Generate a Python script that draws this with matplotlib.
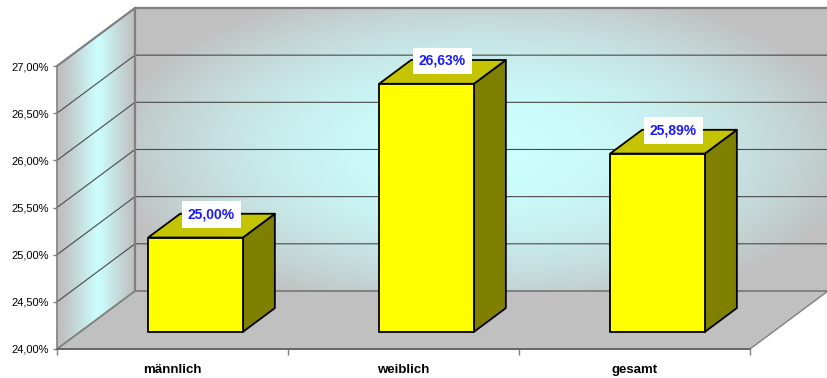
#!/usr/bin/env python3
"""Excel-style 3D column chart: share per group (männlich / weiblich / gesamt)."""

import numpy as np
import matplotlib

matplotlib.use("Agg")
import matplotlib.pyplot as plt
from matplotlib.patches import Polygon


CATEGORIES = ["männlich", "weiblich", "gesamt"]
VALUES = [25.00, 26.63, 25.89]
Y_TICKS = [24.0, 24.5, 25.0, 25.5, 26.0, 26.5, 27.0]

# 3D look: depth vector of the box (x in category units, y in percent units)
DEPTH_X = 78 / 231
DEPTH_Y = 58 / 94.3
BAR_WIDTH = 0.41
BAR_DEPTH = 0.41

GRAY = np.array([192, 192, 192]) / 255
CYAN = np.array([204, 255, 255]) / 255
FRONT = "#FFFF00"
TOP = "#C4C400"
SIDE = "#808000"
WALL_EDGE = "#808080"
GRID = "#4A4A4A"


def pct(v: float) -> str:
    return f"{v:.2f}%".replace(".", ",")


def proj(x: float, y: float, f: float) -> tuple[float, float]:
    return x + f * DEPTH_X, y + f * DEPTH_Y


def gradient(t: np.ndarray) -> np.ndarray:
    t = np.clip(t, 0, 1)[..., None]
    return GRAY * (1 - t) + CYAN * t


def main() -> None:
    fig = plt.figure(figsize=(8.28, 3.78), dpi=100)
    ax = fig.add_axes([57 / 828, 29 / 378, 693 / 828, 283 / 378])
    ax.patch.set_visible(False)
    n = len(CATEGORIES)
    ymin, ymax = Y_TICKS[0], Y_TICKS[-1]

    # back wall with radial glow
    u = np.linspace(0, 1, 400)
    v = np.linspace(0, 1, 200)
    uu, vv = np.meshgrid(u, v)
    r2 = ((uu - 0.5) / 0.55) ** 2 + ((vv - 0.5) / 0.6) ** 2
    ax.imshow(
        gradient(1 - r2),
        extent=[DEPTH_X, n + DEPTH_X, ymin + DEPTH_Y, ymax + DEPTH_Y],
        origin="lower",
        aspect="auto",
        clip_on=False,
        zorder=0,
    )

    # left wall with a vertical glow band
    left_wall = Polygon(
        [(0, ymin), proj(0, ymin, 1), proj(0, ymax, 1), (0, ymax)],
        closed=True,
        fill=False,
        edgecolor="none",
        transform=ax.transData,
    )
    ax.add_patch(left_wall)
    band = 1 - np.abs(2 * uu - 1.05) * 1.1
    im = ax.imshow(
        gradient(band),
        extent=[0, DEPTH_X, ymin, ymax + DEPTH_Y],
        origin="lower",
        aspect="auto",
        zorder=0,
    )
    im.set_clip_path(left_wall)
    im.set_clip_box(fig.bbox)

    # gridlines on both walls
    for t in Y_TICKS[1:-1]:
        bx, by = proj(0, t, 1)
        ax.plot([0, bx, n + DEPTH_X], [t, by, by], color=GRID, lw=0.8,
                clip_on=False, zorder=1)

    # floor
    floor = Polygon(
        [(0, ymin), (n, ymin), proj(n, ymin, 1), proj(0, ymin, 1)],
        closed=True, facecolor=GRAY, edgecolor=WALL_EDGE, lw=1.0,
        clip_on=False, zorder=1,
    )
    ax.add_patch(floor)

    # wall borders
    bx0, by0 = proj(0, ymin, 1)
    bx1, by1 = proj(0, ymax, 1)
    ax.plot([0, bx1, n + DEPTH_X], [ymax, by1, by1], color=WALL_EDGE, lw=1.6,
            clip_on=False, zorder=1.5)
    ax.plot([bx0, bx1], [by0, by1], color=WALL_EDGE, lw=1.6,
            clip_on=False, zorder=1.5)
    ax.plot([0, bx0, n + DEPTH_X], [ymin, by0, by0], color=WALL_EDGE, lw=1.2,
            clip_on=False, zorder=1.5)

    # bars
    f0, f1 = 0.5 - BAR_DEPTH / 2, 0.5 + BAR_DEPTH / 2
    for i, val in enumerate(VALUES):
        x0, x1 = i + 0.5 - BAR_WIDTH / 2, i + 0.5 + BAR_WIDTH / 2
        faces = [
            ([proj(x1, ymin, f0), proj(x1, ymin, f1), proj(x1, val, f1), proj(x1, val, f0)], SIDE),
            ([proj(x0, val, f0), proj(x1, val, f0), proj(x1, val, f1), proj(x0, val, f1)], TOP),
            ([proj(x0, ymin, f0), proj(x1, ymin, f0), proj(x1, val, f0), proj(x0, val, f0)], FRONT),
        ]
        for pts, color in faces:
            ax.add_patch(Polygon(pts, closed=True, facecolor=color, edgecolor="black",
                                 lw=1.3, joinstyle="round", clip_on=False, zorder=3))
        ax.annotate(
            pct(val),
            xy=proj(i + 0.5, val, 0.5),
            xytext=(0, 8),
            textcoords="offset points",
            ha="center",
            va="center",
            fontsize=10,
            fontweight="bold",
            color="#1A1AFF",
            family="Liberation Sans",
            bbox=dict(boxstyle="square,pad=0.45", facecolor="white", edgecolor="none"),
            zorder=4,
        )

    ax.set_xlim(0, n)
    ax.set_ylim(ymin, ymax)

    ax.set_yticks(Y_TICKS)
    ax.set_yticklabels([pct(t) for t in Y_TICKS], fontsize=8, family="Liberation Sans")
    ax.tick_params(axis="y", direction="out", length=3, width=1, color=WALL_EDGE, pad=3)

    ax.set_xticks(range(n + 1))
    ax.set_xticklabels([""] * (n + 1))
    ax.set_xticks([i + 0.5 for i in range(n)], minor=True)
    ax.set_xticklabels(CATEGORIES, minor=True, fontsize=9.5, fontweight="bold",
                       family="Liberation Sans")
    ax.tick_params(axis="x", which="major", direction="out", length=4, width=1,
                   color=WALL_EDGE)
    ax.tick_params(axis="x", which="minor", length=0, pad=11)

    for side in ("top", "right"):
        ax.spines[side].set_visible(False)
    ax.spines["left"].set_color(WALL_EDGE)
    ax.spines["left"].set_linewidth(1.2)
    ax.spines["bottom"].set_color("#606060")
    ax.spines["bottom"].set_linewidth(1.2)

    fig.savefig("out.png", dpi=100)


if __name__ == "__main__":
    main()
